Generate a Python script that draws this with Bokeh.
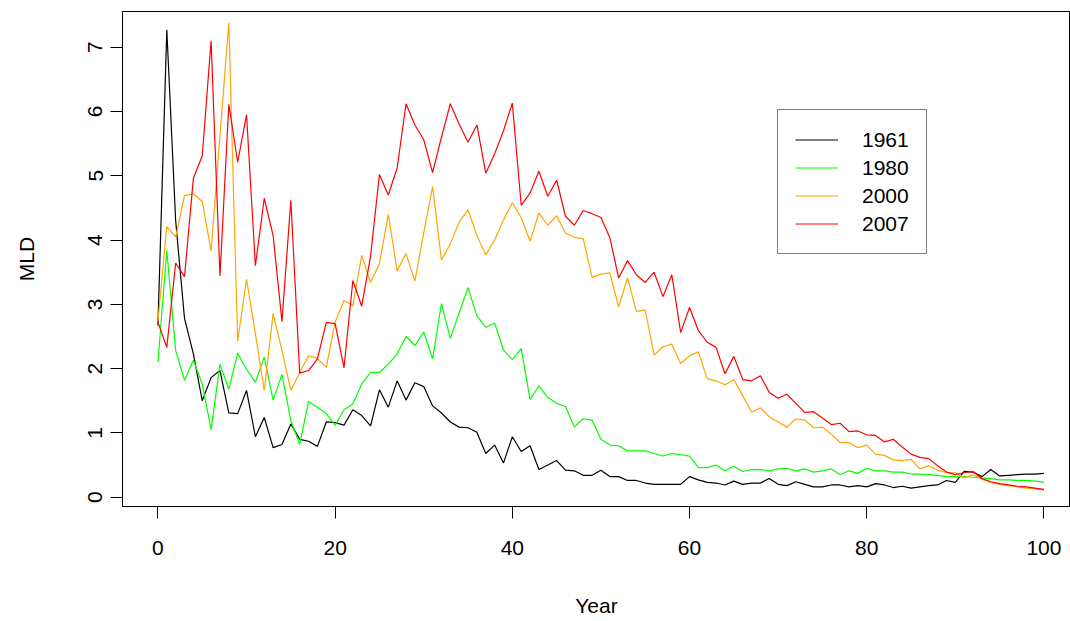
from bokeh.plotting import figure
from bokeh.models import Range1d, FixedTicker, Legend, LegendItem
from bokeh.embed import file_html
from bokeh.resources import INLINE

years = list(range(101))

mld_1961 = [2.67, 7.27, 4.30, 2.78, 2.23, 1.50, 1.86, 1.97, 1.31, 1.30,
            1.66, 0.94, 1.24, 0.77, 0.82, 1.14, 0.90, 0.87, 0.79, 1.17,
            1.16, 1.12, 1.36, 1.27, 1.11, 1.67, 1.40, 1.81, 1.51, 1.78,
            1.72, 1.42, 1.31, 1.17, 1.09, 1.08, 1.01, 0.68, 0.81, 0.53,
            0.94, 0.71, 0.80, 0.43, 0.50, 0.57, 0.42, 0.41, 0.34, 0.34,
            0.42, 0.32, 0.32, 0.26, 0.26, 0.22, 0.20, 0.20, 0.20, 0.20,
            0.32, 0.27, 0.23, 0.22, 0.19, 0.25, 0.20, 0.22, 0.22, 0.29,
            0.20, 0.18, 0.24, 0.20, 0.16, 0.16, 0.19, 0.19, 0.16, 0.18,
            0.16, 0.21, 0.19, 0.15, 0.17, 0.14, 0.16, 0.18, 0.19, 0.26,
            0.23, 0.40, 0.39, 0.32, 0.43, 0.33, 0.34, 0.35, 0.36, 0.36,
            0.37]

mld_1980 = [2.10, 3.84, 2.28, 1.82, 2.13, 1.76, 1.05, 2.07, 1.68, 2.24,
            1.99, 1.79, 2.18, 1.51, 1.91, 1.19, 0.82, 1.49, 1.40, 1.30,
            1.12, 1.36, 1.45, 1.76, 1.94, 1.94, 2.07, 2.23, 2.50, 2.36,
            2.57, 2.15, 3.01, 2.47, 2.87, 3.26, 2.82, 2.64, 2.71, 2.29,
            2.14, 2.31, 1.52, 1.73, 1.55, 1.46, 1.41, 1.09, 1.22, 1.20,
            0.90, 0.81, 0.80, 0.72, 0.72, 0.72, 0.68, 0.64, 0.68, 0.66,
            0.64, 0.46, 0.46, 0.50, 0.41, 0.48, 0.40, 0.43, 0.43, 0.41,
            0.44, 0.45, 0.41, 0.44, 0.39, 0.41, 0.44, 0.35, 0.41, 0.37,
            0.45, 0.41, 0.41, 0.39, 0.39, 0.36, 0.36, 0.35, 0.34, 0.32,
            0.32, 0.32, 0.31, 0.30, 0.29, 0.27, 0.27, 0.26, 0.26, 0.25,
            0.23]

mld_2000 = [2.74, 4.21, 4.05, 4.69, 4.72, 4.60, 3.83, 5.62, 7.38, 2.43,
            3.39, 2.54, 1.66, 2.86, 2.28, 1.66, 1.94, 2.20, 2.16, 2.02,
            2.72, 3.06, 2.98, 3.76, 3.34, 3.63, 4.40, 3.52, 3.79, 3.36,
            4.11, 4.83, 3.69, 3.94, 4.28, 4.47, 4.07, 3.77, 4.00, 4.31,
            4.58, 4.35, 3.98, 4.42, 4.23, 4.38, 4.11, 4.04, 4.02, 3.42,
            3.47, 3.49, 2.96, 3.41, 2.89, 2.91, 2.21, 2.34, 2.38, 2.08,
            2.20, 2.26, 1.84, 1.81, 1.75, 1.83, 1.58, 1.32, 1.39, 1.25,
            1.17, 1.09, 1.22, 1.20, 1.08, 1.09, 0.98, 0.85, 0.85, 0.77,
            0.81, 0.67, 0.65, 0.58, 0.57, 0.59, 0.44, 0.49, 0.42, 0.38,
            0.38, 0.30, 0.35, 0.28, 0.23, 0.20, 0.18, 0.16, 0.14, 0.13,
            0.11]

mld_2007 = [2.72, 2.33, 3.64, 3.43, 4.96, 5.31, 7.10, 3.44, 6.11, 5.21,
            5.95, 3.60, 4.65, 4.07, 2.73, 4.62, 1.93, 1.97, 2.15, 2.72,
            2.70, 2.01, 3.37, 2.97, 3.75, 5.02, 4.70, 5.12, 6.12, 5.79,
            5.56, 5.05, 5.60, 6.12, 5.80, 5.52, 5.79, 5.04, 5.34, 5.70,
            6.13, 4.54, 4.73, 5.07, 4.68, 4.93, 4.37, 4.23, 4.46, 4.41,
            4.35, 4.04, 3.41, 3.68, 3.46, 3.34, 3.50, 3.12, 3.46, 2.56,
            2.95, 2.59, 2.41, 2.33, 1.92, 2.19, 1.83, 1.81, 1.89, 1.63,
            1.54, 1.60, 1.46, 1.32, 1.33, 1.23, 1.13, 1.15, 1.02, 1.03,
            0.97, 0.96, 0.86, 0.90, 0.78, 0.67, 0.62, 0.60, 0.49, 0.39,
            0.35, 0.38, 0.40, 0.29, 0.24, 0.21, 0.19, 0.17, 0.16, 0.14,
            0.12]

series_labels = ["1961", "1980", "2000", "2007"]
series_colors = ["black", "#00FF00", "#FFA500", "#FF0000"]
x_ticks = [0, 20, 40, 60, 80, 100]
y_ticks = [0, 1, 2, 3, 4, 5, 6, 7]

FONT = "Liberation Sans"

p = figure(output_backend="svg", toolbar_location=None,
           frame_width=948, frame_height=495,
           x_range=Range1d(-4, 103.0), y_range=Range1d(-0.145, 7.555),
           min_border_left=122, min_border_top=11, min_border_right=0,
           min_border_bottom=115)

p.background_fill_color = "white"
p.border_fill_color = "white"
p.outline_line_color = "black"
p.outline_line_width = 1
p.xgrid.grid_line_color = None
p.ygrid.grid_line_color = None

for ax, ticks in ((p.xaxis, x_ticks), (p.yaxis, y_ticks)):
    ax.ticker = FixedTicker(ticks=ticks)
    ax.minor_tick_line_color = None
    ax.major_tick_in = 0
    ax.major_tick_out = 12
    ax.major_tick_line_color = "black"
    ax.axis_line_color = "black"
    ax.major_label_text_font = FONT
    ax.major_label_text_font_size = "21px"
    ax.major_label_text_color = "black"
    ax.axis_label_text_font = FONT
    ax.axis_label_text_font_size = "21px"
    ax.axis_label_text_font_style = "normal"
    ax.axis_label_text_color = "black"

p.xaxis.axis_label = "Year"
p.yaxis.axis_label = "MLD"
p.xaxis.major_label_standoff = 22
p.xaxis.axis_label_standoff = 36
p.yaxis.major_label_orientation = "vertical"
p.yaxis.major_label_standoff = 8
p.yaxis.axis_label_standoff = 48

renderers = []
for vals, col in zip([mld_1961, mld_1980, mld_2000, mld_2007], series_colors):
    r = p.line(years, vals, line_color=col, line_width=1.2)
    renderers.append(r)

legend = Legend(
    items=[LegendItem(label=lab, renderers=[r]) for lab, r in zip(series_labels, renderers)],
    location=(655, 252),
    label_text_font=FONT, label_text_font_size="21px", label_text_color="black",
    glyph_width=43, glyph_height=25, label_standoff=24,
    padding=17, spacing=3, margin=0,
    border_line_color="black", border_line_width=1,
    background_fill_color="white", background_fill_alpha=1.0,
)
p.add_layout(legend)

open("out.html", "w").write(file_html(p, INLINE))
